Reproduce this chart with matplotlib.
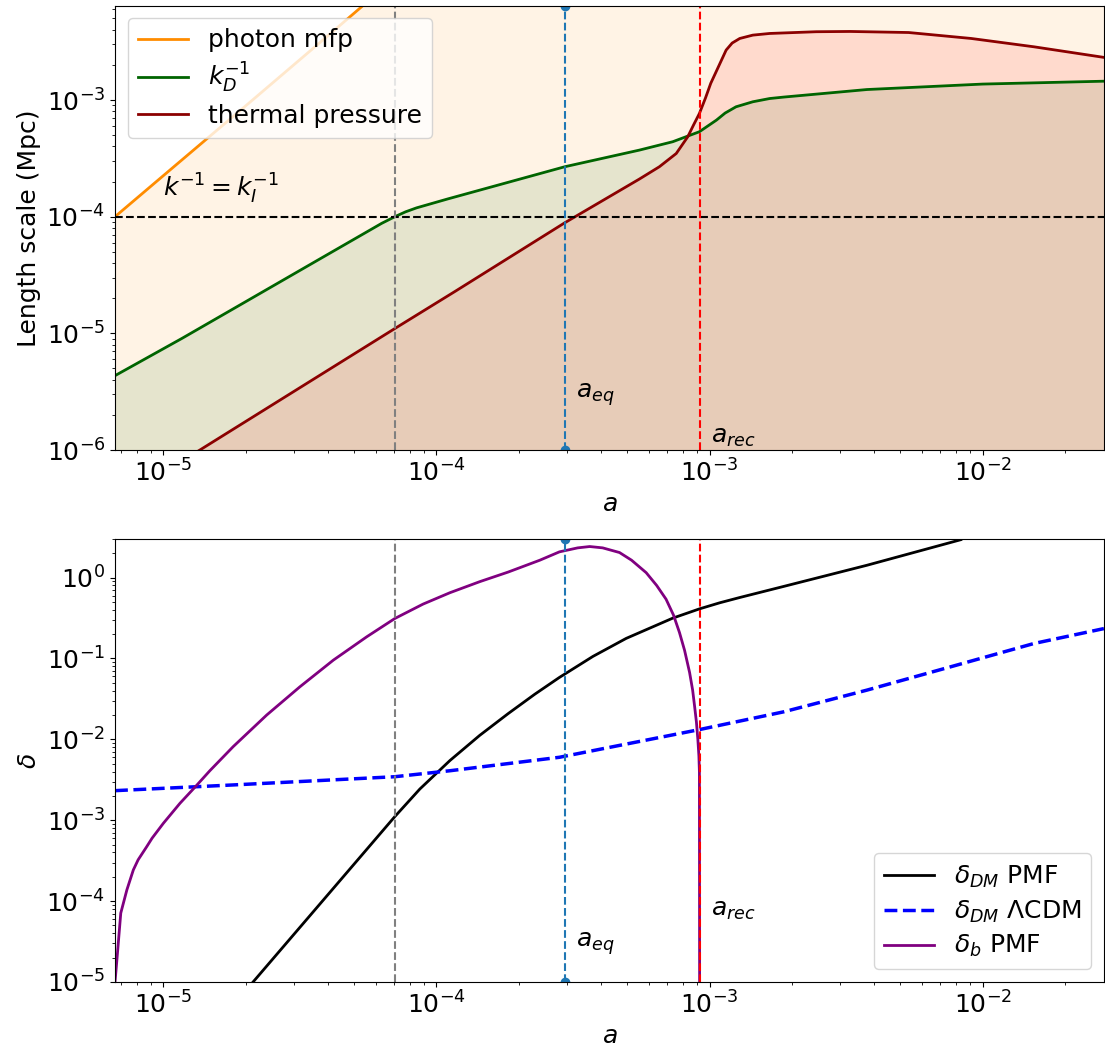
import matplotlib
matplotlib.use('Agg')
import matplotlib.pyplot as plt

plt.rcParams['font.size'] = 18
plt.rcParams['mathtext.fontset'] = 'dejavusans'

# scale factors of the marked epochs
a_eq = 2.95e-4
a_rec = 9.2e-4
a_I = 7.04e-5
k_I_inv = 1e-4

# top panel: length scales (Mpc)
a_mfp = [6.65e-6, 1.0e-5, 2.0e-5, 4.0e-5, 5.4e-5, 2.8e-2]
mfp = [1.0e-4, 2.25e-4, 8.9e-4, 3.55e-3, 6.5e-3, 1.0e3]

a_kD = [6.65e-6, 1.17e-5, 2.05e-5, 3.59e-5, 6.30e-5, 7.04e-5, 7.7e-5, 8.45e-5,
        1.10e-4, 2.95e-4, 5.53e-4, 7.33e-4, 9.18e-4, 1.06e-3, 1.14e-3, 1.25e-3,
        1.44e-3, 1.66e-3, 1.87e-3, 3.77e-3, 1.0e-2, 2.78e-2]
kD_inv = [4.34e-6, 9.06e-6, 1.93e-5, 4.11e-5, 8.77e-5, 1.0e-4, 1.10e-4, 1.19e-4,
          1.42e-4, 2.68e-4, 3.72e-4, 4.39e-4, 5.35e-4, 6.73e-4, 7.73e-4, 8.75e-4,
          9.66e-4, 1.03e-3, 1.06e-3, 1.23e-3, 1.37e-3, 1.45e-3]

a_th = [6.65e-6, 1.36e-5, 7.04e-5, 1.17e-4, 2.95e-4, 5.53e-4, 6.55e-4, 7.55e-4,
        8.32e-4, 8.73e-4, 9.18e-4, 9.66e-4, 1.01e-3, 1.08e-3, 1.15e-3, 1.21e-3,
        1.29e-3, 1.44e-3, 1.66e-3, 2.46e-3, 3.27e-3, 5.36e-3, 9.08e-3, 1.54e-2,
        2.78e-2]
thermal = [3.68e-7, 1.0e-6, 1.10e-5, 2.29e-5, 8.87e-5, 2.1e-4, 2.68e-4, 3.48e-4,
           4.84e-4, 6.09e-4, 7.67e-4, 1.04e-3, 1.39e-3, 1.95e-3, 2.68e-3, 3.08e-3,
           3.37e-3, 3.60e-3, 3.72e-3, 3.85e-3, 3.87e-3, 3.79e-3, 3.37e-3, 2.86e-3,
           2.32e-3]

# bottom panel: density contrasts
a_dm = [2.13e-5, 7.04e-5, 8.69e-5, 1.12e-4, 1.44e-4, 1.83e-4, 2.29e-4, 2.82e-4,
        3.74e-4, 4.95e-4, 7.33e-4, 9.18e-4, 1.09e-3, 1.29e-3, 1.87e-3, 3.77e-3,
        8.32e-3]
delta_dm_pmf = [1.0e-5, 1.11e-3, 2.43e-3, 5.47e-3, 1.12e-2, 2.08e-2, 3.61e-2, 5.83e-2,
                0.106, 0.177, 0.315, 0.41, 0.488, 0.567, 0.778, 1.42,
                2.94]

a_lcdm = [6.65e-6, 1.80e-5, 7.04e-5, 1.12e-4, 2.82e-4, 9.18e-4, 1.87e-3, 3.77e-3,
          7.62e-3, 1.54e-2, 2.78e-2]
delta_dm_lcdm = [2.32e-3, 2.73e-3, 3.45e-3, 4.09e-3, 6.0e-3, 1.32e-2, 2.19e-2,
                 4.06e-2, 7.87e-2, 0.153, 0.234]

a_b = [6.65e-6, 6.78e-6, 6.98e-6, 7.35e-6, 7.76e-6, 8.08e-6, 8.69e-6, 9.09e-6,
       1.0e-5, 1.15e-5, 1.31e-5, 1.48e-5, 1.80e-5, 2.39e-5, 3.16e-5, 4.19e-5,
       5.55e-5, 7.04e-5, 8.93e-5, 1.12e-4, 1.44e-4, 1.83e-4, 2.39e-4, 2.82e-4,
       3.29e-4, 3.64e-4, 4.06e-4, 4.68e-4, 5.18e-4, 5.86e-4, 6.40e-4, 6.93e-4,
       7.38e-4, 7.76e-4, 8.10e-4, 8.45e-4, 8.67e-4, 8.81e-4, 8.95e-4, 9.06e-4,
       9.14e-4, 9.18e-4, 9.2e-4]
delta_b_pmf = [1.0e-5, 2.17e-5, 7.11e-5, 1.38e-4, 2.43e-4, 3.24e-4, 4.72e-4, 6.0e-4,
               9.18e-4, 1.62e-3, 2.60e-3, 4.1e-3, 8.11e-3, 2.0e-2, 4.46e-2, 9.53e-2,
               0.185, 0.312, 0.47, 0.65, 0.89, 1.17, 1.64, 2.08,
               2.33, 2.42, 2.33, 2.04, 1.64, 1.15, 0.80, 0.540,
               0.343, 0.209, 0.126, 6.71e-2, 4.06e-2, 2.60e-2, 1.64e-2, 1.0e-2,
               6.22e-3, 3.92e-3, 1.0e-6]

xlim = (6.65e-6, 2.78e-2)

fig = plt.figure(figsize=(11.05, 10.48), dpi=100)
ax1 = fig.add_axes([0.1041, 0.5706, 0.8949, 0.4237])
ax2 = fig.add_axes([0.1041, 0.0630, 0.8949, 0.4227])

######################################################################
# top panel
ylim1 = (1e-6, 6.4e-3)
ax1.plot(a_mfp, mfp, color='darkorange', lw=2, label='photon mfp')
ax1.fill_between(a_mfp, 1e-9, mfp, color='darkorange', alpha=0.1, lw=0)
ax1.plot(a_kD, kD_inv, color='darkgreen', lw=2, label='$k_D^{-1}$')
ax1.fill_between(a_kD, 1e-9, kD_inv, color='darkgreen', alpha=0.1, lw=0)
ax1.plot(a_th, thermal, color='darkred', lw=2, label='thermal pressure')
ax1.fill_between(a_th, 1e-9, thermal, color='red', alpha=0.1, lw=0)

ax1.axhline(k_I_inv, color='k', ls='--', lw=1.5)
ax1.axvline(a_I, color='gray', ls='--', lw=1.5)
ax1.plot([a_eq, a_eq], ylim1, 'o--', color='tab:blue', lw=1.5)
ax1.axvline(a_rec, color='r', ls='--', lw=1.5)

ax1.text(1.0e-5, 1.5e-4, '$k^{-1} = k_I^{-1}$')
ax1.text(1.1 * a_eq, 3e-6, '$a_{eq}$', va='center')
ax1.text(1.1 * a_rec, 1.3e-6, '$a_{rec}$', va='center')

ax1.set_xscale('log')
ax1.set_yscale('log')
ax1.set_xlim(xlim)
ax1.set_ylim(ylim1)
ax1.set_xlabel('$a$')
ax1.set_ylabel('Length scale (Mpc)')
ax1.legend(loc='upper left', labelspacing=0.35)

######################################################################
# bottom panel
ylim2 = (1e-5, 3.0)
ax2.plot(a_dm, delta_dm_pmf, color='k', lw=2, label=r'$\delta_{DM}$ PMF')
ax2.plot(a_lcdm, delta_dm_lcdm, color='b', ls='--', lw=2.5, label=r'$\delta_{DM}$ $\Lambda$CDM')
ax2.plot(a_b, delta_b_pmf, color='purple', lw=2, label=r'$\delta_b$ PMF')

ax2.axvline(a_I, color='gray', ls='--', lw=1.5)
ax2.plot([a_eq, a_eq], ylim2, 'o--', color='tab:blue', lw=1.5)
ax2.axvline(a_rec, color='r', ls='--', lw=1.5)

ax2.text(1.1 * a_eq, 3e-5, '$a_{eq}$', va='center')
ax2.text(1.1 * a_rec, 7.8e-5, '$a_{rec}$', va='center')

ax2.set_xscale('log')
ax2.set_yscale('log')
ax2.set_xlim(xlim)
ax2.set_ylim(ylim2)
ax2.set_xlabel('$a$')
ax2.set_ylabel(r'$\delta$')
ax2.legend(loc='lower right', labelspacing=0.35)

plt.savefig('out.png', dpi=100)
